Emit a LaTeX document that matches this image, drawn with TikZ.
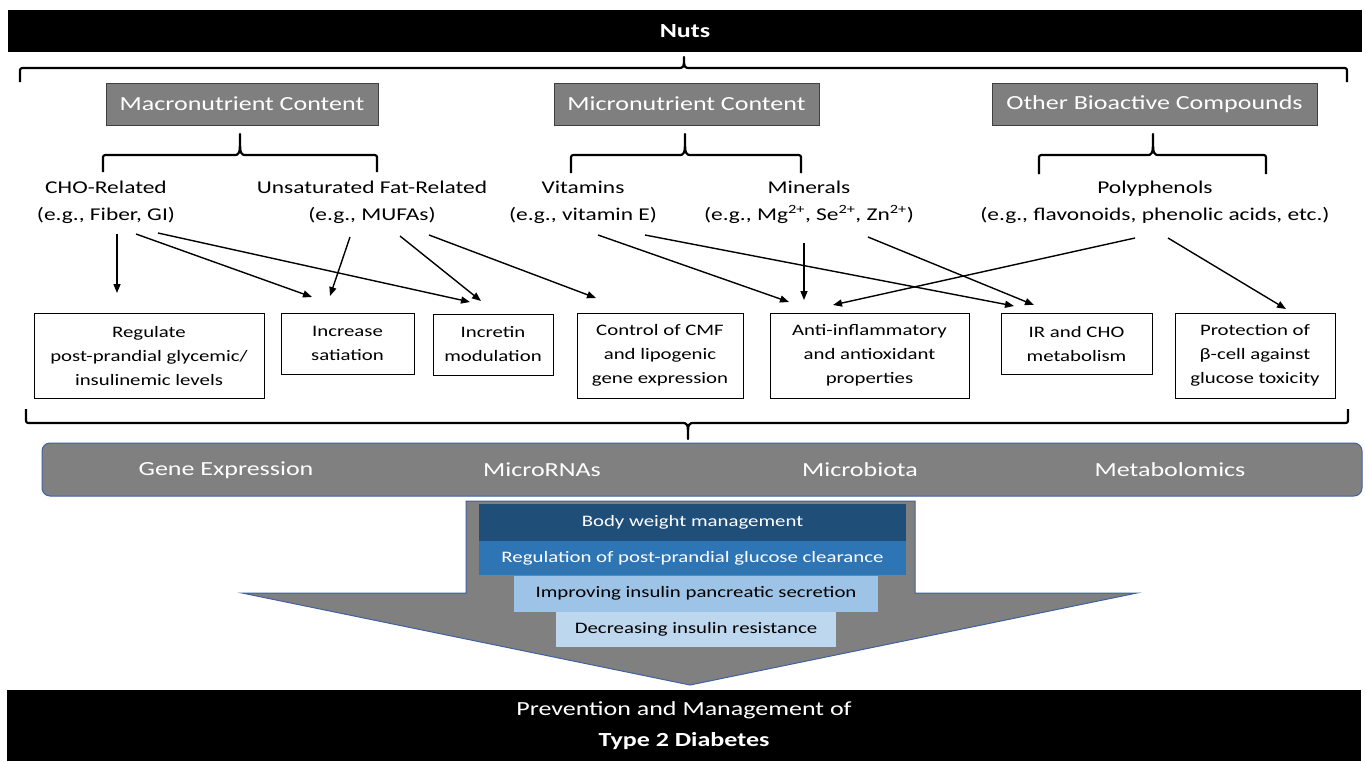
\documentclass[tikz,border=0pt]{standalone}
\usepackage{fontspec}
\setmainfont{Carlito}[FakeStretch=1.3]
\usetikzlibrary{arrows.meta,calc}
\definecolor{titlegray}{HTML}{7F7F7F}
\definecolor{titleborder}{HTML}{404040}
\definecolor{bandgray}{HTML}{808080}
\definecolor{bandborder}{HTML}{41619C}
\definecolor{bluedark}{HTML}{1F4E79}
\definecolor{bluemid}{HTML}{2E75B6}
\definecolor{bluelight}{HTML}{9DC3E6}
\definecolor{bluepale}{HTML}{BDD7EE}
\newcommand\curlybrace[6]{%
  \draw[bracestyle] (#1,#5) -- (#1,{#4+5*sign(#5-#4)}) .. controls (#1,#4) .. (#1+5,#4)
    -- (#2-7,#4) .. controls (#2,#4) .. (#2,#6) .. controls (#2,#4) .. (#2+7,#4)
    -- (#3-5,#4) .. controls (#3,#4) .. (#3,{#4+5*sign(#5-#4)}) -- (#3,#5);}
\begin{document}
\begin{tikzpicture}[x=1pt,y=-1pt,
  blackbar/.style={fill=black,draw=none,text=white,inner sep=0pt,align=center},
  titlebox/.style={fill=titlegray,draw=titleborder,line width=1pt,text=white,inner sep=0pt,font=\fontsize{20}{24}\selectfont},
  lbl/.style={align=center,inner sep=0pt,font=\fontsize{18}{27}\selectfont},
  effbox/.style={draw=black,line width=1pt,align=center,inner sep=0pt,font=\fontsize{16}{24}\selectfont},
  bandtxt/.style={text=white,inner sep=0pt,font=\fontsize{20}{24}\selectfont},
  stepbox/.style={draw=none,inner sep=0pt,font=\fontsize{16}{20}\selectfont},
  arr/.style={-{Triangle[length=9pt,width=7pt]},line width=1.4pt},
  bracestyle/.style={line width=2.2pt,line join=round}]
\useasboundingbox (0,0) rectangle (1366,761);
\fill[white] (0,0) rectangle (1366,761);

% top bar
\node[blackbar,minimum width=1354pt,minimum height=42pt,font=\bfseries\fontsize{20}{24}\selectfont] (nuts) at (685,31) {Nuts};
\curlybrace{20}{684}{1347}{68}{82}{57}

% title boxes
\node[titlebox,minimum width=272pt,minimum height=42pt] (macro) at (242,104) {Macronutrient Content};
\node[titlebox,minimum width=265pt,minimum height=42pt] (micro) at (686.5,104) {Micronutrient Content};
\node[titlebox,minimum width=325pt,minimum height=42pt] (other) at (1154.5,104) {Other Bioactive Compounds};

\curlybrace{103}{240}{377}{155}{172}{134}
\curlybrace{571}{685}{801}{155}{173}{134}
\curlybrace{1039}{1153}{1266}{155}{174}{134}

% labels
\node[lbl] (cho) at (106,202) {CHO-Related\\(e.g., Fiber, GI)};
\node[lbl] (ufa) at (372,202) {Unsaturated Fat-Related\\(e.g., MUFAs)};
\node[lbl] (vit) at (583,202) {Vitamins\\(e.g., vitamin E)};
\node[lbl] (min) at (809,202) {Minerals\\(e.g., Mg\textsuperscript{2+}, Se\textsuperscript{2+}, Zn\textsuperscript{2+})};
\node[lbl] (poly) at (1155,202) {Polyphenols\\(e.g., flavonoids, phenolic acids, etc.)};

% effect boxes
\node[effbox,minimum width=230pt,minimum height=85pt] (reg) at (149,355.5) {Regulate\\post-prandial glycemic/\\insulinemic levels};
\node[effbox,minimum width=133pt,minimum height=61pt] (sat) at (347.5,343.5) {Increase\\satiation};
\node[effbox,minimum width=120pt,minimum height=61pt] (inc) at (493,344.5) {Incretin\\modulation};
\node[effbox,minimum width=166pt,minimum height=85pt] (cmf) at (660,355.5) {Control of CMF\\and lipogenic\\gene expression};
\node[effbox,minimum width=199pt,minimum height=85pt] (anti) at (869.5,355.5) {Anti-inflammatory\\and antioxidant\\properties};
\node[effbox,minimum width=151pt,minimum height=61pt] (ir) at (1076.5,343.5) {IR and CHO\\metabolism};
\node[effbox,minimum width=160pt,minimum height=85pt] (prot) at (1255,355.5) {Protection of\\β-cell against\\glucose toxicity};

% arrow end points
\coordinate (s1) at (117,234);  \coordinate (e1) at (117,293);
\coordinate (s2) at (136,234);  \coordinate (e2) at (312,297);
\coordinate (s3) at (158,233);  \coordinate (e3) at (470,302);
\coordinate (s4) at (350,237);  \coordinate (e4) at (330,296);
\coordinate (s5) at (400,236);  \coordinate (e5) at (481,301);
\coordinate (s6) at (429,235);  \coordinate (e6) at (596,298);
\coordinate (s7) at (598,235);  \coordinate (e7) at (789,302);
\coordinate (s8) at (645,235);  \coordinate (e8) at (1014,306);
\coordinate (s9) at (804,243);  \coordinate (e9) at (804,300);
\coordinate (s10) at (868,237); \coordinate (e10) at (1034,305);
\coordinate (s11) at (1135,238); \coordinate (e11) at (833,305);
\coordinate (s12) at (1168,238); \coordinate (e12) at (1286,309);
\foreach \i in {1,...,12} {\draw[arr] (s\i) -- (e\i);}

% bottom brace
\curlybrace{26}{688}{1348}{423}{409}{439}

% band
\node[fill=bandgray,draw=bandborder,line width=1pt,rounded corners=8pt,minimum width=1320pt,minimum height=53pt,inner sep=0pt] (band) at (702,469.5) {};
\node[bandtxt] (ge) at (226,470) {Gene Expression};
\node[bandtxt] (mirna) at (542,470) {MicroRNAs};
\node[bandtxt] (mbiota) at (860,470) {Microbiota};
\node[bandtxt] (metab) at (1170,470) {Metabolomics};

% big arrow
\draw[fill=bandgray,draw=bandborder,line width=1pt,line join=miter]
  (466,501) -- (915,501) -- (915,593) -- (1137,593) -- (690,685) -- (242,593) -- (466,593) -- cycle;
\node[stepbox,fill=bluedark,text=white,minimum width=427pt,minimum height=37pt] (bw) at (692.5,522.5) {Body weight management};
\node[stepbox,fill=bluemid,text=white,minimum width=427pt,minimum height=34pt] (ppg) at (692.5,558) {Regulation of post-prandial glucose clearance};
\node[stepbox,fill=bluelight,text=black,minimum width=364pt,minimum height=36pt] (ins) at (696,593.5) {Improving insulin pancreatic secretion};
\node[stepbox,fill=bluepale,text=black,minimum width=280pt,minimum height=35pt] (res) at (696,629.5) {Decreasing insulin resistance};

% bottom bar
\node[blackbar,minimum width=1354pt,minimum height=71pt,font=\fontsize{20}{31}\selectfont] (t2d) at (684,725.5) {Prevention and Management of\\\textbf{Type 2 Diabetes}};
\end{tikzpicture}
\end{document}
